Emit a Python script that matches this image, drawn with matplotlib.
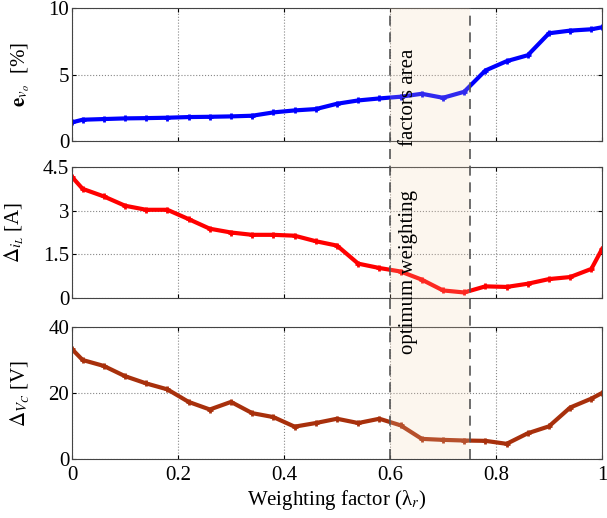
import matplotlib
matplotlib.use("Agg")
import matplotlib.pyplot as plt
from matplotlib.patches import Rectangle
from matplotlib.lines import Line2D

plt.rcParams['font.family'] = ['Liberation Serif', 'DejaVu Serif']
plt.rcParams['mathtext.fontset'] = 'stix'

# weighting factor samples
lam = [0, 0.02, 0.06, 0.10, 0.14, 0.18, 0.22, 0.26, 0.30, 0.34, 0.38, 0.42, 0.46,
       0.50, 0.54, 0.58, 0.62, 0.66, 0.70, 0.74, 0.78, 0.82, 0.86, 0.90, 0.94, 0.98, 1.0]

# output voltage error [%]
e_vo = [1.4, 1.6, 1.65, 1.7, 1.72, 1.75, 1.8, 1.82, 1.85, 1.9, 2.15, 2.3, 2.4,
        2.8, 3.05, 3.2, 3.33, 3.55, 3.25, 3.7, 5.3, 6.0, 6.45, 8.1, 8.3, 8.4, 8.55]

# inductor current ripple [A]
d_il = [4.16, 3.75, 3.49, 3.17, 3.03, 3.03, 2.71, 2.38, 2.25, 2.17, 2.17, 2.14, 1.95,
        1.8, 1.18, 1.03, 0.91, 0.63, 0.26, 0.19, 0.4, 0.38, 0.49, 0.65, 0.72, 1.0, 1.68]

# capacitor voltage ripple [V]
d_vc = [33.3, 30.0, 28.2, 25.1, 22.9, 21.1, 17.3, 15.0, 17.3, 13.9, 12.7, 9.8, 10.9,
        12.2, 10.9, 12.2, 10.2, 6.1, 5.8, 5.6, 5.5, 4.6, 7.8, 9.9, 15.6, 18.3, 20.0]

band = (0.6, 0.75)

fig = plt.figure(figsize=(6.07, 5.18), dpi=100)
left, width = 72 / 607, 530 / 607
ax1 = fig.add_axes([left, 1 - 141 / 518, width, 133 / 518])
ax2 = fig.add_axes([left, 1 - 298 / 518, width, 131 / 518])
ax3 = fig.add_axes([left, 1 - 459 / 518, width, 132 / 518])

panels = [
    (ax1, e_vo, 'blue', [0, 5, 10], ['0', '5', '10'], r'$\mathbf{e}_{v_o}$  [%]'),
    (ax2, d_il, 'red', [0, 1.5, 3, 4.5], ['0', '1.5', '3', '4.5'], r'$\Delta_{i_L}$ [A]'),
    (ax3, d_vc, '#A8300C', [0, 20, 40], ['0', '20', '40'], r'$\Delta_{V_C}$ [V]'),
]

for ax, y, col, yt, ytl, lab in panels:
    ax.plot(lam, y, color=col, lw=3, marker='+', ms=5, mew=2)
    ax.set_xlim(0, 1)
    ax.set_ylim(yt[0], yt[-1])
    ax.set_yticks(yt)
    ax.set_yticklabels(ytl)
    ax.set_xticks([0, 0.2, 0.4, 0.6, 0.8, 1.0])
    ax.grid(True, linestyle=':', color='#888888', linewidth=0.8)
    ax.tick_params(direction='in', labelsize=15, top=True, right=True, length=3, pad=2)
    ax.set_ylabel(lab, fontsize=15, labelpad=12)
    for s in ax.spines.values():
        s.set_color('#444444')

ax1.tick_params(labelbottom=False)
ax2.tick_params(labelbottom=False)
ax3.tick_params(axis='x', pad=5)
ax3.set_xticklabels(['0', '0.2', '0.4', '0.6', '0.8', '1'])
ax3.set_xlabel('Weighting factor (λ$_r$)', fontsize=15, labelpad=2)

# shaded band across all panels
inv = fig.transFigure.inverted()
x0 = inv.transform(ax1.transData.transform((band[0], 0)))[0]
x1 = inv.transform(ax1.transData.transform((band[1], 0)))[0]
y_bot = 1 - 459 / 518
y_top = 1 - 8 / 518
fig.add_artist(Rectangle((x0, y_bot), x1 - x0, y_top - y_bot, transform=fig.transFigure,
                         facecolor='#F2D2AE', alpha=0.2, edgecolor='none', zorder=5))
for xv in (x0, x1):
    fig.add_artist(Line2D([xv, xv], [y_bot, y_top], transform=fig.transFigure,
                          color='#555555', linestyle=(0, (6, 4)), lw=1.2, zorder=6))

xt = inv.transform(ax1.transData.transform((0.635, 0)))[0]
fig.text(xt, 1 - 97 / 518, 'factors area', rotation=90, ha='center', va='center',
         fontsize=15, zorder=7)
fig.text(xt, 1 - 272 / 518, 'optimum weighting', rotation=90, ha='center', va='center',
         fontsize=15, zorder=7)

fig.savefig('out.png', dpi=100)
